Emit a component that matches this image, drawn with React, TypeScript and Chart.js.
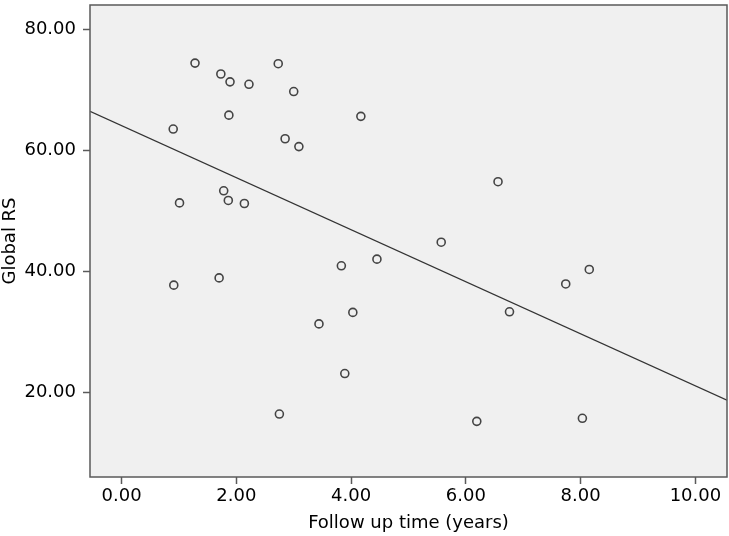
import { useEffect, useRef } from "react";
import { Chart, registerables } from "chart.js";

Chart.register(...registerables);

// Follow up time (years) for each patient
const followUpYears = [
  1.28, 1.73, 1.89, 2.22, 2.73, 3.0, 1.87, 0.9, 2.85, 3.09,
  4.17, 6.56, 1.78, 1.86, 2.14, 1.01, 5.57, 4.45, 3.83, 1.7,
  0.91, 4.03, 3.44, 3.89, 2.75, 6.76, 7.74, 8.15, 6.19, 8.03,
];
// Global RS for each patient
const globalRS = [
  74.4, 72.6, 71.3, 70.9, 74.3, 69.7, 65.8, 63.5, 61.9, 60.6,
  65.6, 54.8, 53.3, 51.7, 51.2, 51.3, 44.8, 42.0, 40.9, 38.9,
  37.7, 33.2, 31.3, 23.1, 16.4, 33.3, 37.9, 40.3, 15.2, 15.7,
];

const xTickValues = [0, 2, 4, 6, 8, 10];
const yTickValues = [20, 40, 60, 80];
const X_MIN = -0.55;
const X_MAX = 10.55;
const Y_MIN = 6;
const Y_MAX = 84;
const xTitle = "Follow up time (years)";
const yTitle = "Global RS";

function fitLine(xs: number[], ys: number[]) {
  const n = xs.length;
  const mx = xs.reduce((a, b) => a + b, 0) / n;
  const my = ys.reduce((a, b) => a + b, 0) / n;
  let sxy = 0;
  let sxx = 0;
  for (let i = 0; i < n; i++) {
    sxy += (xs[i] - mx) * (ys[i] - my);
    sxx += (xs[i] - mx) * (xs[i] - mx);
  }
  const slope = sxy / sxx;
  return { slope, intercept: my - slope * mx };
}

const FONT = "'DejaVu Sans', sans-serif";
const FONT_SIZE = 18;

const framePlugin = {
  id: "frame",
  beforeDraw(chart: any) {
    const { ctx, chartArea: a } = chart;
    ctx.save();
    ctx.fillStyle = "#f0f0f0";
    ctx.fillRect(a.left, a.top, a.right - a.left, a.bottom - a.top);
    ctx.restore();
  },
  afterDraw(chart: any) {
    const { ctx, chartArea: a } = chart;
    ctx.save();
    ctx.strokeStyle = "#5a5a5a";
    ctx.lineWidth = 1.5;
    ctx.strokeRect(a.left, a.top, a.right - a.left, a.bottom - a.top);
    ctx.restore();
  },
};

export default function App() {
  const ref = useRef<HTMLCanvasElement | null>(null);

  useEffect(() => {
    if (!ref.current) return;
    const { slope, intercept } = fitLine(followUpYears, globalRS);
    const points = followUpYears.map((x, i) => ({ x, y: globalRS[i] }));
    const fit = [X_MIN, X_MAX].map((x) => ({ x, y: intercept + slope * x }));

    const chart = new Chart(ref.current, {
      type: "scatter",
      data: {
        datasets: [
          {
            type: "line",
            data: fit,
            borderColor: "#333",
            borderWidth: 1.3,
            pointRadius: 0,
            fill: false,
          } as any,
          {
            data: points,
            pointRadius: 4,
            pointHoverRadius: 4,
            borderColor: "#444",
            borderWidth: 1.6,
            backgroundColor: "rgba(0,0,0,0)",
          },
        ],
      },
      options: {
        animation: false,
        responsive: false,
        events: [],
        layout: { autoPadding: false, padding: { top: 5, right: 2, left: 0, bottom: 0 } },
        plugins: { legend: { display: false }, tooltip: { enabled: false } },
        scales: {
          x: {
            type: "linear",
            min: X_MIN,
            max: X_MAX,
            afterBuildTicks: (s: any) => {
              s.ticks = xTickValues.map((v) => ({ value: v }));
            },
            afterFit: (s: any) => {
              s.height = 59;
              s.paddingLeft = 0;
              s.paddingRight = 0;
            },
            grid: {
              drawOnChartArea: false,
              drawTicks: true,
              tickLength: 7,
              tickWidth: 1.5,
              tickColor: "#5a5a5a",
            },
            border: { display: false },
            ticks: {
              padding: 2,
              color: "#000",
              font: { family: FONT, size: FONT_SIZE },
              callback: (v: any) => Number(v).toFixed(2),
              maxRotation: 0,
            },
            title: {
              display: true,
              text: xTitle,
              color: "#000",
              font: { family: FONT, size: FONT_SIZE },
              padding: { top: 0, bottom: 2 },
            },
          },
          y: {
            type: "linear",
            min: Y_MIN,
            max: Y_MAX,
            afterBuildTicks: (s: any) => {
              s.ticks = yTickValues.map((v) => ({ value: v }));
            },
            afterFit: (s: any) => {
              s.width = 90;
              s.paddingTop = 0;
              s.paddingBottom = 0;
            },
            grid: {
              drawOnChartArea: false,
              drawTicks: true,
              tickLength: 7,
              tickWidth: 1.5,
              tickColor: "#5a5a5a",
            },
            border: { display: false },
            ticks: {
              padding: 7,
              color: "#000",
              font: { family: FONT, size: FONT_SIZE },
              callback: (v: any) => Number(v).toFixed(2),
            },
            title: {
              display: true,
              text: yTitle,
              color: "#000",
              font: { family: FONT, size: FONT_SIZE },
              padding: { top: 0, bottom: 0 },
            },
          },
        },
      },
      plugins: [framePlugin],
    });
    return () => chart.destroy();
  }, []);

  return (
    <div style={{ position: "absolute", left: 0, top: 0, width: 729, height: 536 }}>
      <canvas ref={ref} width={729} height={536} />
    </div>
  );
}
